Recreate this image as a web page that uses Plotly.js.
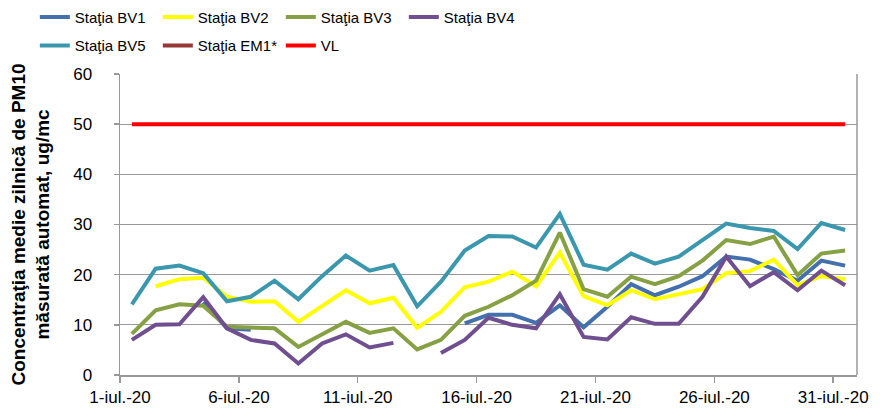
<!DOCTYPE html>
<html>
<head>
<meta charset="utf-8">
<script src="https://cdn.plot.ly/plotly-3.0.1.min.js"></script>
<style>html,body{margin:0;padding:0;background:#fff}#chart{width:893px;height:412px}</style>
</head>
<body>
<div id="chart"></div>
<script>
// Days of July 2020
const days = [1,2,3,4,5,6,7,8,9,10,11,12,13,14,15,16,17,18,19,20,21,22,23,24,25,26,27,28,29,30,31];
const tickDays = [1,6,11,16,21,26,31];
const tickLabels = ['1-iul.-20','6-iul.-20','11-iul.-20','16-iul.-20','21-iul.-20','26-iul.-20','31-iul.-20'];

const bv1 = [null,null,null,14.5,9.3,9.0,null,null,null,null,null,null,null,null,10.3,12.0,12.0,10.4,13.9,9.5,13.6,18.1,15.9,17.6,19.7,23.6,23.0,21.1,18.8,22.8,21.8];
const bv2 = [null,17.7,19.1,19.4,15.6,14.6,14.7,10.6,13.8,16.9,14.3,15.4,9.4,12.6,17.5,18.6,20.6,17.7,24.4,15.7,13.9,16.9,15.1,16.1,17.1,20.3,20.7,23.0,17.9,19.7,19.1];
const bv3 = [8.2,12.9,14.1,13.8,9.6,9.5,9.3,5.6,8.2,10.6,8.4,9.3,5.1,7.0,11.8,13.6,15.9,18.8,28.4,17.1,15.6,19.6,18.1,19.7,22.8,26.9,26.1,27.6,19.9,24.2,24.8];
const bv4 = [7.0,10.0,10.1,15.5,9.3,7.0,6.3,2.3,6.3,8.1,5.5,6.4,null,4.4,7.0,11.4,10.0,9.3,16.1,7.6,7.1,11.5,10.2,10.2,15.6,23.6,17.7,20.5,16.9,20.8,17.9];
const bv5 = [14.1,21.2,21.8,20.3,14.7,15.6,18.8,15.1,19.7,23.8,20.8,21.9,13.7,18.6,24.8,27.7,27.6,25.4,32.1,22.0,21.0,24.2,22.2,23.6,26.9,30.2,29.3,28.7,25.1,30.3,28.9];
const em1 = [null,null,null,null,null,null,null,null,null,null,null,null,null,null,null,null,null,null,null,null,null,null,null,null,null,null,null,null,null,null,null];
const vl = [50,50,50,50,50,50,50,50,50,50,50,50,50,50,50,50,50,50,50,50,50,50,50,50,50,50,50,50,50,50,50];

const names = ['Staţia BV1','Staţia BV2','Staţia BV3','Staţia BV4','Staţia BV5','Staţia EM1*','VL'];
const colors = ['#4470AD','#FFFF00','#86A044','#6F4F8F','#3A97AE','#953735','#FF0000'];
const series = [bv1,bv2,bv3,bv4,bv5,em1,vl];

// points sit in the middle of each day slot
const xs = days.map(d => d - 0.5);

const traces = series.map((ys, i) => ({
  x: xs, y: ys, name: names[i], type: 'scatter', mode: 'lines',
  connectgaps: false,
  line: {color: colors[i], width: 4},
  legend: i < 4 ? 'legend' : 'legend2',
  showlegend: true
}));

const regular = 'Liberation Sans, Arial, sans-serif';
const legendCommon = {
  orientation: 'h', xanchor: 'left', yanchor: 'top',
  xref: 'container', yref: 'container',
  font: {family: regular, size: 15, color: '#000'},
  entrywidth: 78, entrywidthmode: 'pixels',
  itemwidth: 30, bgcolor: 'rgba(0,0,0,0)', tracegroupgap: 0
};

const layout = {
  width: 893, height: 412,
  margin: {l: 120, r: 36, t: 74, b: 37},
  paper_bgcolor: '#fff', plot_bgcolor: '#fff',
  font: {family: regular, color: '#000'},
  showlegend: true,
  legend: Object.assign({}, legendCommon, {x: 0.039, y: 0.998}),
  legend2: Object.assign({}, legendCommon, {x: 0.039, y: 0.929}),
  xaxis: {
    range: [0, 31],
    tickvals: tickDays.map(d => d - 1),
    ticktext: tickLabels,
    tickfont: {family: regular, size: 17, color: '#000'},
    showgrid: false, zeroline: false,
    showline: true, linecolor: '#999', linewidth: 1.5,
    ticks: 'outside', ticklen: 6, tickcolor: '#999', tickwidth: 1.5,
    mirror: false
  },
  yaxis: {
    range: [0, 60], dtick: 10, tick0: 0,
    tickfont: {family: regular, size: 17, color: '#000'},
    ticklabelstandoff: 18,
    showgrid: true, gridcolor: '#999', gridwidth: 1.3,
    zeroline: false,
    showline: true, linecolor: '#999', linewidth: 1.5,
    ticks: 'outside', ticklen: 5, tickcolor: '#999', tickwidth: 1.5,
    title: {
      text: '<b>Concentraţia medie zilnică de PM10<br>măsurată automat, ug/mc</b>',
      font: {family: regular, size: 19, color: '#000'},
      standoff: 18
    }
  },
  shapes: [{
    type: 'line', xref: 'paper', yref: 'paper', x0: 1, x1: 1, y0: 0, y1: 1,
    line: {color: '#999', width: 1.5}
  }]
};

Plotly.newPlot('chart', traces, layout, {displayModeBar: false, staticPlot: true});
</script>
</body>
</html>
